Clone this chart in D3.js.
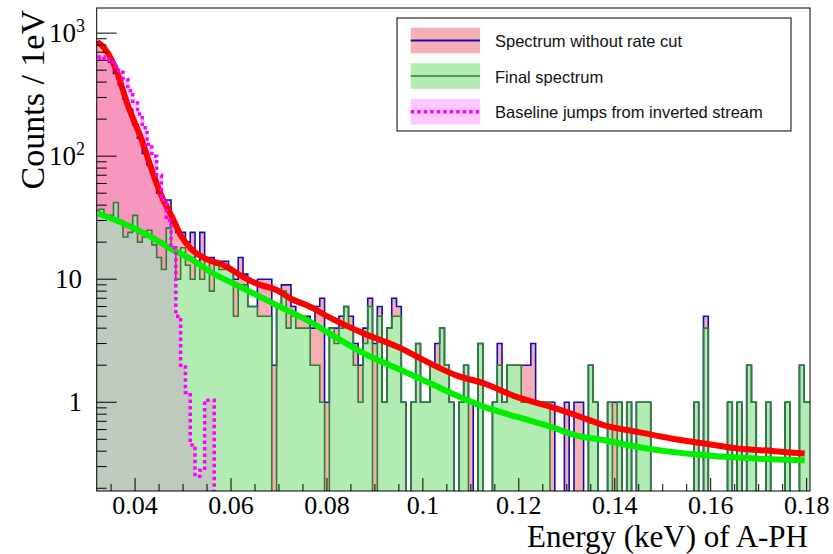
<!DOCTYPE html>
<html>
<head>
<meta charset="utf-8">
<script src="https://cdn.jsdelivr.net/npm/d3@7"></script>
<style>
  body { margin: 0; background: #fff; }
  svg { display: block; }
</style>
</head>
<body>
<svg id="chart" width="833" height="554"></svg>
<script>
// 1 eV bins, the first one centred on 32 eV
const firstBinCentre = 0.032;
const binWidth = 0.001;

// Spectrum without rate cut (counts per bin)
const totalCounts = [
  850, 800, 700, 580, 470, 380, 290, 240, 180, 140,   // 32-41
  105, 85, 68, 50, 44, 44, 28, 24, 24, 20,            // 42-51
  24, 14, 24, 14, 15, 14, 14, 14, 12, 10,             // 52-61
  15, 11, 6, 6, 10, 10, 10, 2, 6, 9,                  // 62-71
  9, 6, 5, 5, 5, 4, 6, 7, 1, 4,                       // 72-81
  4, 5, 6, 5, 3, 2, 4, 7, 3, 6,                       // 82-91
  1, 4, 7, 6, 1, 0, 1, 3, 1, 1,                       // 92-101
  2, 3, 4, 2, 1, 0, 1, 2, 1, 0,                       // 102-111
  3, 0, 0, 1, 3, 1, 2, 2, 2, 2,                       // 112-121
  2, 3, 1, 1, 1, 1, 0, 0, 1, 0,                       // 122-131
  1, 1, 0, 2, 1, 0, 0, 1, 1, 1,                       // 132-141
  0, 1, 0, 1, 1, 1, 0, 0, 0, 0,                       // 142-151
  0, 0, 0, 0, 0, 1, 0, 5, 0, 0,                       // 152-161
  0, 0, 1, 0, 1, 0, 2, 1, 0, 0,                       // 162-171
  1, 0, 0, 0, 1, 0, 0, 2, 1, 1                        // 172-181
];

// Final spectrum (counts per bin)
const finalCounts = [
  36, 37, 33, 33, 42, 30, 22, 24, 33, 20,
  22, 25, 19, 15, 12, 26, 18, 10, 18, 13,
  10, 14, 10, 14, 8, 13, 12, 12, 12, 5,
  9, 9, 6, 6, 5, 5, 5, 0, 6, 8,
  4, 5, 4, 4, 4, 2, 2, 1, 0, 4,
  3, 4, 6, 4, 2, 1, 3, 6, 0, 5,
  1, 4, 5, 5, 1, 0, 1, 3, 1, 1,
  2, 2, 4, 2, 1, 0, 1, 2, 0, 0,
  3, 0, 0, 1, 2, 1, 2, 2, 2, 1,
  1, 1, 1, 1, 1, 0, 0, 0, 0, 0,
  0, 0, 0, 2, 1, 0, 0, 1, 0, 1,
  0, 1, 0, 1, 1, 1, 0, 0, 0, 0,
  0, 0, 0, 0, 0, 1, 0, 4, 0, 0,
  0, 0, 1, 0, 1, 0, 2, 1, 0, 0,
  1, 0, 0, 0, 1, 0, 0, 2, 1, 1
];

// Baseline jumps from inverted stream (counts per bin)
const jumpCounts = [
  620, 640, 620, 580, 540, 480, 420, 340, 280, 220,
  170, 125, 100, 70, 44, 30, 18, 5, 2, 1.2,
  0.45, 0.25, 0.28, 1.04, 1.04
];

// Smooth description of the spectrum without rate cut
const fitTotalEnergy = [0.0321, 0.0330, 0.0358, 0.0386, 0.0414, 0.0435, 0.0456, 0.0477, 0.0496, 0.0515,
  0.0550, 0.0585, 0.0626, 0.0654, 0.0696, 0.0724, 0.0766, 0.0807, 0.0877, 0.0947, 0.1016, 0.1068,
  0.1128, 0.1197, 0.1267, 0.1319, 0.1378, 0.1448, 0.1518, 0.1587, 0.1657, 0.1727, 0.1796];
const fitTotal = [845, 798, 532, 252, 135, 76.9, 46.7, 32.1, 22.4, 17.9,
  14.5, 13.0, 10.4, 9.2, 8.14, 6.97, 5.95, 4.85, 3.62, 2.82, 2.06, 1.66,
  1.42, 1.10, 0.916, 0.784, 0.650, 0.574, 0.507, 0.462, 0.421, 0.402, 0.383];

// Smooth description of the final spectrum
const fitFinalEnergy = [0.0323, 0.0376, 0.0445, 0.0473, 0.0515, 0.0557, 0.0626, 0.0695, 0.0765, 0.0817,
  0.0877, 0.0947, 0.1016, 0.1069, 0.1128, 0.1197, 0.1267, 0.1319, 0.1378, 0.1448, 0.1518, 0.1587,
  0.1657, 0.1727, 0.1796];
const fitFinal = [34.2, 28.4, 20.8, 17.8, 14.7, 11.5, 8.4, 6.15, 4.5, 3.4,
  2.49, 1.88, 1.42, 1.14, 0.916, 0.759, 0.630, 0.539, 0.491, 0.433, 0.395, 0.371,
  0.355, 0.344, 0.338];

const xTickValues = [0.04, 0.06, 0.08, 0.1, 0.12, 0.14, 0.16, 0.18];
const xTickLabels = ["0.04", "0.06", "0.08", "0.1", "0.12", "0.14", "0.16", "0.18"];
const yTickValues = [1, 10, 100, 1000];
const yTickLabels = [["1", ""], ["10", ""], ["10", "2"], ["10", "3"]];

const legendLabels = ["Spectrum without rate cut", "Final spectrum", "Baseline jumps from inverted stream"];

const frame = { left: 96.7, right: 810, top: 8, bottom: 491 };
const yMin = 0.19, yMax = 1600;

const svg = d3.select("#chart");
const x = d3.scaleLinear().domain([0.032, 0.1807]).range([frame.left, frame.right]);
const y = d3.scaleLog().domain([yMin, yMax]).range([frame.bottom, frame.top]);

const defs = svg.append("defs");
defs.append("clipPath").attr("id", "plotClip")
  .append("rect").attr("x", frame.left).attr("y", frame.top)
  .attr("width", frame.right - frame.left).attr("height", frame.bottom - frame.top);

// Fill styles of the three histograms
const fillRed = "#f6b0b5";
const fillGreen = "#b3ecb3";
const fillMagenta = "#ff00ff";
const magentaOpacity = 0.14;

// y position of a bin content, empty bins fall below the frame
const yv = v => (v > 0 ? y(Math.max(v, yMin * 0.5)) : frame.bottom + 5);

function stepPoints(values) {
  const pts = [];
  values.forEach((v, i) => {
    const c = firstBinCentre + i * binWidth;
    pts.push([x(c - binWidth / 2), yv(v)]);
    pts.push([x(c + binWidth / 2), yv(v)]);
  });
  return pts;
}
function outlinePath(values) {
  const pts = stepPoints(values);
  return "M" + pts[0][0] + "," + (frame.bottom + 5) + pts.map(p => "L" + p[0] + "," + p[1]).join("") +
    "L" + pts[pts.length - 1][0] + "," + (frame.bottom + 5);
}
const areaPath = values => outlinePath(values) + "Z";

const plot = svg.append("g").attr("clip-path", "url(#plotClip)");

plot.append("path").attr("d", areaPath(totalCounts)).attr("fill", fillRed);
plot.append("path").attr("d", areaPath(finalCounts)).attr("fill", fillGreen);
plot.append("path").attr("d", areaPath(jumpCounts)).attr("fill", fillMagenta)
  .attr("fill-opacity", magentaOpacity);

plot.append("path").attr("d", outlinePath(totalCounts))
  .attr("fill", "none").attr("stroke", "#1010b0").attr("stroke-width", 1.6);
plot.append("path").attr("d", outlinePath(finalCounts))
  .attr("fill", "none").attr("stroke", "#2f7f2f").attr("stroke-width", 1.6);

const curve = d3.line().x(d => x(d[0])).y(d => y(d[1])).curve(d3.curveMonotoneX);
plot.append("path").attr("d", curve(fitTotalEnergy.map((e, i) => [e, fitTotal[i]])))
  .attr("fill", "none").attr("stroke", "#ff0000").attr("stroke-width", 6);
plot.append("path").attr("d", curve(fitFinalEnergy.map((e, i) => [e, fitFinal[i]])))
  .attr("fill", "none").attr("stroke", "#00ee00").attr("stroke-width", 6);

plot.append("path").attr("d", outlinePath(jumpCounts))
  .attr("fill", "none").attr("stroke", "#ff00ff").attr("stroke-width", 3.5)
  .attr("stroke-dasharray", "3.5,3");

// Frame
svg.append("rect").attr("x", frame.left).attr("y", frame.top)
  .attr("width", frame.right - frame.left).attr("height", frame.bottom - frame.top)
  .attr("fill", "none").attr("stroke", "#000").attr("stroke-width", 1);

// X axis ticks
const xMinor = d3.range(0.035, 0.1807, 0.005);
const axisG = svg.append("g").attr("stroke", "#000").attr("stroke-width", 1);
xMinor.forEach(t => {
  const major = xTickValues.some(v => Math.abs(v - t) < 1e-9);
  axisG.append("line").attr("x1", x(t)).attr("x2", x(t))
    .attr("y1", frame.bottom).attr("y2", frame.bottom - (major ? 13 : 7));
});
svg.append("g").selectAll("text").data(xTickValues).join("text")
  .attr("x", d => x(d)).attr("y", 514).attr("text-anchor", "middle")
  .attr("font-family", "Liberation Serif, Times New Roman, serif").attr("font-size", 26)
  .text((d, i) => xTickLabels[i]);

// Y axis ticks (log)
const yMinor = [];
[0.1, 1, 10, 100, 1000].forEach(dec => { for (let k = 2; k <= 9; k++) yMinor.push(dec * k); });
yMinor.filter(v => v > yMin && v < yMax).forEach(v => {
  axisG.append("line").attr("x1", frame.left).attr("x2", frame.left + 10)
    .attr("y1", y(v)).attr("y2", y(v));
});
yTickValues.forEach(v => {
  axisG.append("line").attr("x1", frame.left).attr("x2", frame.left + 20)
    .attr("y1", y(v)).attr("y2", y(v));
});
const yLab = svg.append("g").attr("font-family", "Liberation Serif, Times New Roman, serif")
  .attr("font-size", 27);
yTickValues.forEach((v, i) => {
  const t = yLab.append("text").attr("y", y(v) + 9).attr("text-anchor", "end");
  const [base, sup] = yTickLabels[i];
  if (sup) {
    t.attr("x", 85);
    t.append("tspan").text(base);
    t.append("tspan").attr("font-size", 18).attr("dy", -10).text(sup);
  } else {
    t.attr("x", 82).text(base);
  }
});

// Axis titles
svg.append("text").attr("x", 808).attr("y", 547).attr("text-anchor", "end")
  .attr("font-family", "Liberation Serif, Times New Roman, serif").attr("font-size", 31)
  .text("Energy (keV) of A-PH");
svg.append("text").attr("transform", "translate(44,10) rotate(-90)").attr("text-anchor", "end")
  .attr("font-family", "Liberation Serif, Times New Roman, serif").attr("font-size", 34)
  .text("Counts / 1eV");

// Legend
const leg = svg.append("g");
leg.append("rect").attr("x", 397).attr("y", 18).attr("width", 394).attr("height", 113)
  .attr("fill", "#fff").attr("stroke", "#000").attr("stroke-width", 1);
const rowY = [40.5, 76, 111.7];
const legFills = [[fillRed, 1], [fillGreen, 1], [fillMagenta, 0.22]];
rowY.forEach((cy, i) => {
  leg.append("rect").attr("x", 410.7).attr("y", cy - 12.8).attr("width", 69.3).attr("height", 25.6)
    .attr("fill", legFills[i][0]).attr("fill-opacity", legFills[i][1]);
  const ln = leg.append("line").attr("x1", 410.7).attr("x2", 480).attr("y1", cy).attr("y2", cy);
  if (i === 0) ln.attr("stroke", "#1010b0").attr("stroke-width", 2);
  if (i === 1) ln.attr("stroke", "#2f7f2f").attr("stroke-width", 1.6);
  if (i === 2) ln.attr("stroke", "#ff00ff").attr("stroke-width", 3.5).attr("stroke-dasharray", "3.5,3");
  leg.append("text").attr("x", 495).attr("y", cy + 6.5)
    .attr("font-family", "Liberation Sans, Arial, Helvetica, sans-serif").attr("font-size", 16.5)
    .attr("fill", "#111").text(legendLabels[i]);
});
</script>
</body>
</html>
